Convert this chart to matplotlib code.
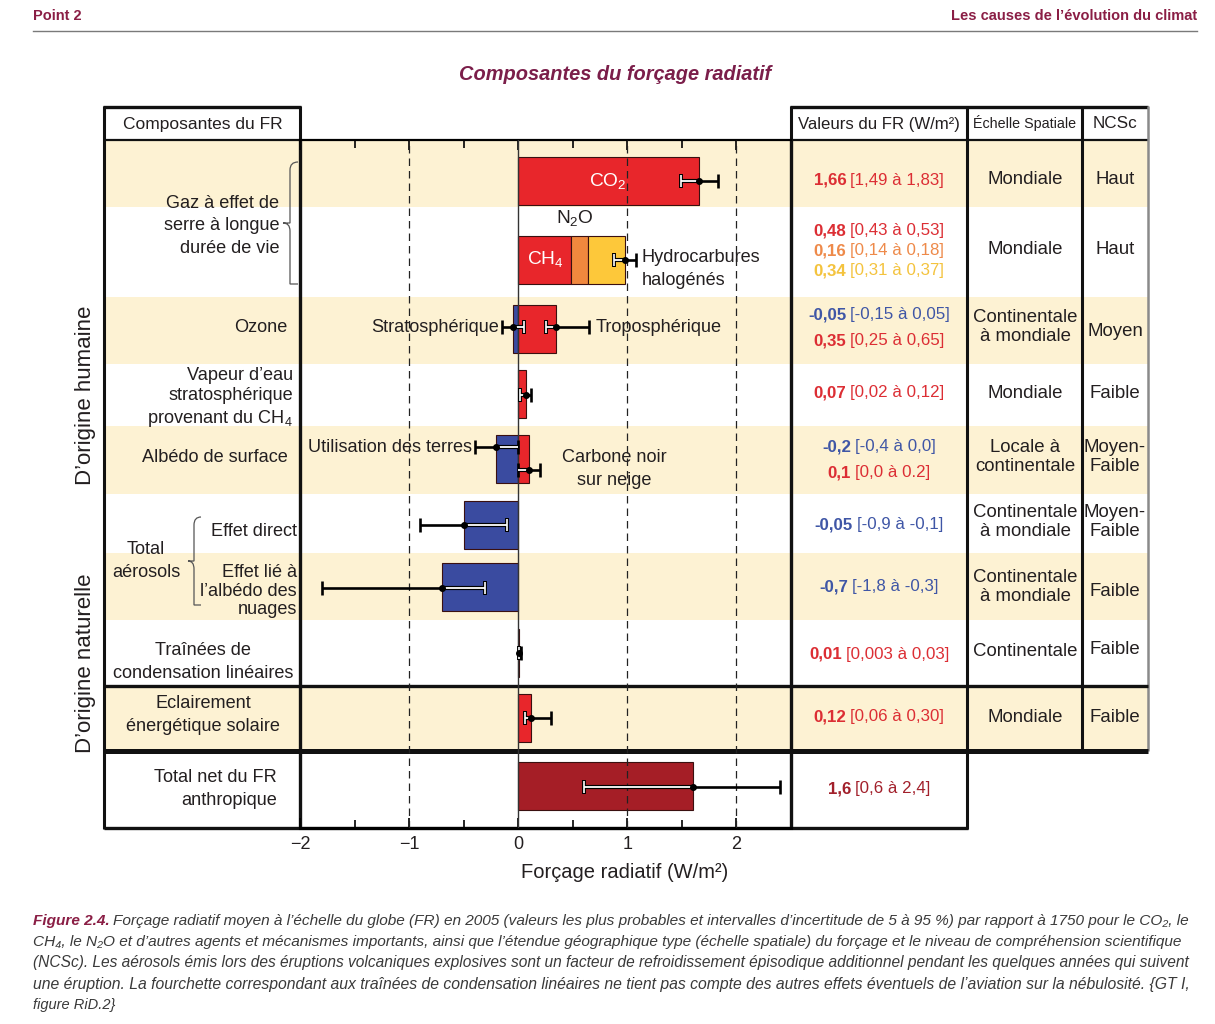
import matplotlib
matplotlib.use('Agg')
import matplotlib.pyplot as plt
from matplotlib import font_manager
from matplotlib.path import Path
from matplotlib.patches import PathPatch, Rectangle

avail = {f.name for f in font_manager.fontManager.ttflist}
BASE = 'Liberation Sans' if 'Liberation Sans' in avail else 'DejaVu Sans'
NARROW = 'Liberation Sans Narrow' if 'Liberation Sans Narrow' in avail else BASE
plt.rcParams['font.family'] = [BASE, 'DejaVu Sans']
plt.rcParams['mathtext.fontset'] = 'custom'
plt.rcParams['mathtext.rm'] = BASE
plt.rcParams['mathtext.it'] = BASE + ':italic'
plt.rcParams['mathtext.bf'] = BASE + ':bold'

# ---------------- data ----------------
bar_names = ['CO2', 'CH4', 'N2O', 'Hydrocarbures halogénés', 'Ozone strato', 'Ozone tropo',
             'Vapeur d’eau', 'Utilisation des terres', 'Carbone noir', 'Aérosols direct',
             'Aérosols nuages', 'Traînées', 'Solaire', 'Total']
bar_rows = [0, 1, 1, 1, 2, 2, 3, 4, 4, 5, 6, 7, 8, 9]
bar_values = [1.66, 0.48, 0.16, 0.34, -0.05, 0.35, 0.07, -0.2, 0.1, -0.5, -0.7, 0.01, 0.12, 1.6]
bar_kind = ['red', 'red', 'orange', 'yellow', 'blue', 'red', 'red', 'blue', 'red', 'blue',
            'blue', 'red', 'red', 'darkred']

err_rows = [0, 1, 2, 2, 3, 4, 4, 5, 6, 7, 8, 9]
err_center = [1.66, 0.98, -0.05, 0.35, 0.07, -0.2, 0.1, -0.5, -0.7, 0.01, 0.12, 1.6]
err_lo = [1.49, 0.88, -0.15, 0.25, 0.02, -0.4, 0.0, -0.9, -1.8, 0.003, 0.06, 0.6]
err_hi = [1.83, 1.08, 0.05, 0.65, 0.12, 0.0, 0.2, -0.1, -0.3, 0.03, 0.30, 2.4]

val_bold = ['1,66', '0,48', '0,16', '0,34', '-0,05', '0,35', '0,07', '-0,2', '0,1',
            '-0,05', '-0,7', '0,01', '0,12', '1,6']
val_range = ['[1,49 à 1,83]', '[0,43 à 0,53]', '[0,14 à 0,18]', '[0,31 à 0,37]',
             '[-0,15 à 0,05]', '[0,25 à 0,65]', '[0,02 à 0,12]', '[-0,4 à 0,0]',
             '[0,0 à 0.2]', '[-0,9 à -0,1]', '[-1,8 à -0,3]', '[0,003 à 0,03]',
             '[0,06 à 0,30]', '[0,6 à 2,4]']
val_kind = ['red', 'red', 'orange', 'yellow', 'blue', 'red', 'red', 'blue', 'red',
            'blue', 'blue', 'red', 'red', 'darkred']

echelle = ['Mondiale', 'Mondiale', 'Continentale\nà mondiale', 'Mondiale',
           'Locale à\ncontinentale', 'Continentale\nà mondiale', 'Continentale\nà mondiale',
           'Continentale', 'Mondiale']
ncsc = ['Haut', 'Haut', 'Moyen', 'Faible', 'Moyen-\nFaible', 'Moyen-\nFaible', 'Faible',
        'Faible', 'Faible']

x_ticks = [-2, -1, 0, 1, 2]
x_ticklabels = ['−2', '−1', '0', '1', '2']

# ---------------- layout (pixels) ----------------
W, H = 1215, 1024
row_bounds = [140, 207, 297, 364, 426, 494, 553, 620, 686, 751, 828]
row_center = [181, 260, 329, 394, 459, 525, 587, 653, 718, 786]
bar_h = 48
err_dy = [0, 0, -2, -2, 1, -12, 11, 0, 1, 0, 0, 1]
val_y = [180, 231, 251, 271, 315, 341, 393, 447, 473, 525, 587, 654, 717, 789]
ech_y = [180, 250, 327, 393, 457, 522, 587, 651, 717]
ncsc_y = [180, 249, 332, 393, 457, 522, 591, 650, 717]
XL, XC0, XC1, XV1, XE1, XN1 = 104, 300, 791, 967, 1082, 1148

BEIGE = '#FDF2D3'
COL = {'red': '#E8262B', 'orange': '#F0883E', 'yellow': '#FDC83A', 'blue': '#3A4BA0',
       'darkred': '#A51E26'}
TCOL = {'red': '#DC2E34', 'orange': '#EE8A4A', 'yellow': '#F4C33E', 'blue': '#3F56A6',
        'darkred': '#A2202B'}
MAROON = '#8A1E45'
TXT = '#231F20'
FS = 13.1      # main label size
LS = 1.42      # line spacing for labels

fig = plt.figure(figsize=(W / 100, H / 100), dpi=100)
bg = fig.add_axes([0, 0, 1, 1])
bg.set_xlim(0, W)
bg.set_ylim(H, 0)
bg.axis('off')
bg.set_zorder(0)

# beige bands
for i in range(len(row_bounds) - 1):
    if i % 2 == 0 and i < 9:
        bg.add_patch(Rectangle((XL, row_bounds[i]), XN1 - XL, row_bounds[i + 1] - row_bounds[i],
                               facecolor=BEIGE, edgecolor='none', zorder=0))

# table borders
def hline(y, x0, x1, lw, c='#111111'):
    bg.plot([x0, x1], [y, y], color=c, lw=lw, solid_capstyle='butt', zorder=3)

def vline(x, y0, y1, lw, c='#111111'):
    bg.plot([x, x], [y0, y1], color=c, lw=lw, solid_capstyle='butt', zorder=3)

hline(107, XL - 1, XC0 + 1, 2.4)
hline(107, XC1 - 1, XN1, 2.4)
hline(140, XL, XC0, 1.6)
hline(140, XC1, XN1, 1.6)
vline(XL, 106, 829, 2.2)
vline(XC0, 106, 140, 2.2)
vline(XC1, 106, 140, 2.2)
vline(XV1, 106, 829, 2.2)
vline(XE1, 106, 751, 2.2)
vline(XN1, 106, 751, 1.8, '#8a8a8a')
hline(686, XL, XN1, 2.4)
hline(751, XL, XN1, 3.6)
hline(828, XL, XV1 + 1, 2.4)
vline(XC0, 140, 829, 2.4)
vline(XC1, 140, 829, 2.4)

# header texts
bg.text(203, 124, 'Composantes du FR', ha='center', va='center', fontsize=12.5, color=TXT)
bg.text(879, 124, 'Valeurs du FR (W/m²)', ha='center', va='center', fontsize=12.1, color=TXT)
bg.text(1025, 123, 'Échelle Spatiale', ha='center', va='center', fontsize=10.3, color=TXT,
        family=[NARROW, 'DejaVu Sans'])
bg.text(1115, 124, 'NCSc', ha='center', va='center', fontsize=12.3, color=TXT)

# left column labels: text, x, y, alignment, line spacing
left_labels = [
    ('Gaz à effet de\nserre à longue\ndurée de vie', 279, 226, 'right', LS),
    ('Ozone', 287, 327, 'right', LS),
    ('Vapeur d’eau\nstratosphérique\nprovenant du CH$_4$', 293, 398, 'right', 1.22),
    ('Albédo de surface', 288, 457, 'right', LS),
    ('Effet direct', 297, 532, 'right', LS),
    ('Effet lié à\nl’albédo des\nnuages', 297, 591, 'right', 1.12),
    ('Total\naérosols', 146, 561, 'center', LS),
    ('Traînées de\ncondensation linéaires', 203, 662, 'center', LS),
    ('Eclairement\nénergétique solaire', 203, 715, 'center', LS),
    ('Total net du FR\nanthropique', 277, 789, 'right', LS),
]
for txt, x, y, ha, ls in left_labels:
    bg.text(x, y, txt, ha=ha, va='center', fontsize=FS, color=TXT, linespacing=ls,
            multialignment=ha)

bg.text(86, 395, 'D’origine humaine', rotation=90, ha='center', va='center', fontsize=16,
        color=TXT)
bg.text(86, 663, 'D’origine naturelle', rotation=90, ha='center', va='center', fontsize=16,
        color=TXT)

# braces
def brace(x_tip, x_body, x_end, y0, y1):
    ym = (y0 + y1) / 2
    verts = [(x_end, y0), (x_body, y0), (x_body, y0 + 8), (x_body, y0 + 8),
             (x_body, ym - 8), (x_body, ym - 8), (x_body, ym), (x_tip, ym),
             (x_body, ym), (x_body, ym + 8), (x_body, ym + 8),
             (x_body, y1 - 8), (x_body, y1 - 8), (x_body, y1), (x_end, y1)]
    codes = [Path.MOVETO, Path.CURVE3, Path.CURVE3, Path.LINETO,
             Path.LINETO, Path.CURVE3, Path.CURVE3, Path.LINETO,
             Path.CURVE3, Path.CURVE3, Path.LINETO,
             Path.LINETO, Path.CURVE3, Path.CURVE3, Path.LINETO]
    bg.add_patch(PathPatch(Path(verts, codes), facecolor='none', edgecolor='#555555', lw=0.9,
                           zorder=2))

brace(283, 290, 298, 162, 284)
brace(188, 194, 201, 517, 605)

# values column (bold + regular, centred)
renderer = fig.canvas.get_renderer()

def two_part(x, y, t_bold, t_reg, color, size, ha='center', family=None, style='normal',
             bold_color=None):
    kw = dict(va='center', fontsize=size, style=style)
    if family:
        kw['family'] = family
    t1 = bg.text(x, y, t_bold, ha='left', fontweight='bold', color=bold_color or color, **kw)
    t2 = bg.text(x, y, t_reg, ha='left', color=color, **kw)
    w1 = t1.get_window_extent(renderer).width
    w2 = t2.get_window_extent(renderer).width
    gap = size * 0.3
    x0 = x - (w1 + gap + w2) / 2 if ha == 'center' else x
    t1.set_x(x0)
    t2.set_x(x0 + w1 + gap)
    return t1, t2

for b, r, k, y in zip(val_bold, val_range, val_kind, val_y):
    two_part(879, y, b, r, TCOL[k], 12.2)

for t, y in zip(echelle, ech_y):
    bg.text(1025, y, t, ha='center', va='center', fontsize=13.4, color=TXT, linespacing=1.2)
for t, y in zip(ncsc, ncsc_y):
    bg.text(1115, y, t, ha='center', va='center', fontsize=13.4, color=TXT, linespacing=1.2)

# header/top texts
bg.text(33, 16, 'Point 2', ha='left', va='center', fontsize=10.5, fontweight='bold',
        color=MAROON, family=[NARROW, 'DejaVu Sans'])
bg.text(1197, 16, 'Les causes de l’évolution du climat', ha='right', va='center',
        fontsize=10.5, fontweight='bold', color=MAROON, family=[NARROW, 'DejaVu Sans'])
bg.plot([33, 1197], [31, 31], color='#7a7a7a', lw=1.0)
bg.text(615, 74, 'Composantes du forçage radiatif', ha='center', va='center', fontsize=14.4,
        fontweight='bold', style='italic', color='#7B1E4A')

# caption
cap_lines = [
    'Forçage radiatif moyen à l’échelle du globe (FR) en 2005 (valeurs les plus probables et intervalles d’incertitude de 5 à 95 %) par rapport à 1750 pour le CO₂, le',
    'CH₄, le N₂O et d’autres agents et mécanismes importants, ainsi que l’étendue géographique type (échelle spatiale) du forçage et le niveau de compréhension scientifique',
    '(NCSc). Les aérosols émis lors des éruptions volcaniques explosives sont un facteur de refroidissement épisodique additionnel pendant les quelques années qui suivent',
    'une éruption. La fourchette correspondant aux traînées de condensation linéaires ne tient pas compte des autres effets éventuels de l’aviation sur la nébulosité. {GT I,',
    'figure RiD.2}',
]
cap_y = [921, 942, 963, 984, 1005]
cap_fam = [NARROW, 'DejaVu Sans']
CAPCOL = '#3A3A3A'
target = 1197 - 33
for i, (line, y) in enumerate(zip(cap_lines, cap_y)):
    size = 10.5
    if i == 0:
        t1, t2 = two_part(33, y, 'Figure 2.4.', line, CAPCOL, size, ha='left', family=cap_fam,
                          style='italic', bold_color=MAROON)
        w = t2.get_window_extent(renderer).x1 - 33
        s2 = size * target / w
        t1.set_fontsize(s2); t2.set_fontsize(s2)
        w1 = t1.get_window_extent(renderer).width
        t2.set_x(33 + w1 + s2 * 0.3)
    else:
        t = bg.text(33, y, line, ha='left', va='center', fontsize=size, style='italic',
                    color=CAPCOL, family=cap_fam)
        if i < 4:
            w = t.get_window_extent(renderer).width
            t.set_fontsize(size * target / w)

# ---------------- chart axes ----------------
ax = fig.add_axes([XC0 / W, 1 - row_bounds[-1] / H, (XC1 - XC0) / W,
                   (row_bounds[-1] - row_bounds[0]) / H])
ax.set_zorder(1)
ax.patch.set_alpha(0)
ax.set_xlim(-2, 2.5)
ax.set_ylim(row_bounds[-1], row_bounds[0])

# bars
row_extent = {}
pos_sum, neg_sum = {}, {}
for name, r, v, k in zip(bar_names, bar_rows, bar_values, bar_kind):
    if v >= 0:
        left = pos_sum.get(r, 0.0)
        pos_sum[r] = left + v
    else:
        left = neg_sum.get(r, 0.0)
        neg_sum[r] = left + v
    ax.barh(row_center[r], v, left=left, height=bar_h, color=COL[k],
            edgecolor='#3a1010', linewidth=0.8, zorder=2)
for r in set(bar_rows):
    row_extent[r] = (neg_sum.get(r, 0.0), pos_sum.get(r, 0.0))

# grid lines (over bars)
for xv in [-1, 1, 2]:
    ax.axvline(xv, color='#222222', lw=0.9, ls=(0, (6, 4)), zorder=3)
ax.axvline(0, color='#333333', lw=1.0, zorder=3)

# error bars: black outside the bars, white with black outline inside
cap = 7
for r, c, lo, hi, dy in zip(err_rows, err_center, err_lo, err_hi, err_dy):
    y = row_center[r] + dy
    a, b = row_extent[r]
    ax.plot([lo, hi], [y, y], color='k', lw=1.9, solid_capstyle='butt', zorder=4)
    for xe in (lo, hi):
        inside = a <= xe <= b and abs(xe) > 1e-9
        ax.plot([xe, xe], [y - cap, y + cap], color='k', lw=2.8 if inside else 1.9,
                solid_capstyle='butt', zorder=4)
    wlo, whi = max(lo, a), min(hi, b)
    if whi > wlo:
        ax.plot([wlo, whi], [y, y], color='k', lw=3.0, solid_capstyle='butt', zorder=4)
        ax.plot([wlo, whi], [y, y], color='white', lw=1.3, solid_capstyle='butt', zorder=5)
    for xe in (lo, hi):
        if a <= xe <= b and abs(xe) > 1e-9:
            ax.plot([xe, xe], [y - cap + 1, y + cap - 1], color='white', lw=1.2,
                    solid_capstyle='butt', zorder=5)
    ax.plot([c], [y], 'o', color='k', ms=4, zorder=6)

# chart annotations
ax.text(0.82, 181, 'CO$_2$', color='white', fontsize=13.8, ha='center', va='center', zorder=6)
ax.text(0.52, 218, 'N$_2$O', color=TXT, fontsize=13.8, ha='center', va='center', zorder=6)
ax.text(0.25, 259, 'CH$_4$', color='white', fontsize=13.8, ha='center', va='center', zorder=6)
ax.text(1.13, 269, 'Hydrocarbures\nhalogénés', color=TXT, fontsize=FS, ha='left',
        va='center', multialignment='left', linespacing=LS, zorder=6)
ax.text(-0.18, 327, 'Stratosphérique', color=TXT, fontsize=FS, ha='right', va='center',
        zorder=6)
ax.text(0.71, 328, 'Troposphérique', color=TXT, fontsize=FS, ha='left', va='center',
        zorder=6)
ax.text(-0.42, 448, 'Utilisation des terres', color=TXT, fontsize=FS, ha='right',
        va='center', zorder=6)
ax.text(0.88, 469, 'Carbone noir\nsur neige', color=TXT, fontsize=FS, ha='center',
        va='center', linespacing=LS, zorder=6)

# axes styling
for s in ['left', 'right']:
    ax.spines[s].set_visible(False)
ax.spines['bottom'].set_linewidth(2.2)
ax.spines['top'].set_linewidth(1.6)
ax.set_xticks(x_ticks)
ax.set_xticklabels(x_ticklabels, fontsize=13, color=TXT)
ax.set_xticks([-1.5, -0.5, 0.5, 1.5], minor=True)
ax.tick_params(which='both', direction='in', top=True, bottom=True, left=False,
               labelleft=False, width=1.2, color='k')
ax.tick_params(which='major', length=7, pad=6)
ax.tick_params(which='minor', length=6)
ax.set_yticks([])
ax.set_xlabel('Forçage radiatif (W/m²)', fontsize=14.5, color=TXT)
ax.xaxis.set_label_coords((625 - XC0) / (XC1 - XC0), -(873 - 828) / (828 - 140))
ax.xaxis.label.set_va('center')

fig.savefig('out.png', dpi=100)
